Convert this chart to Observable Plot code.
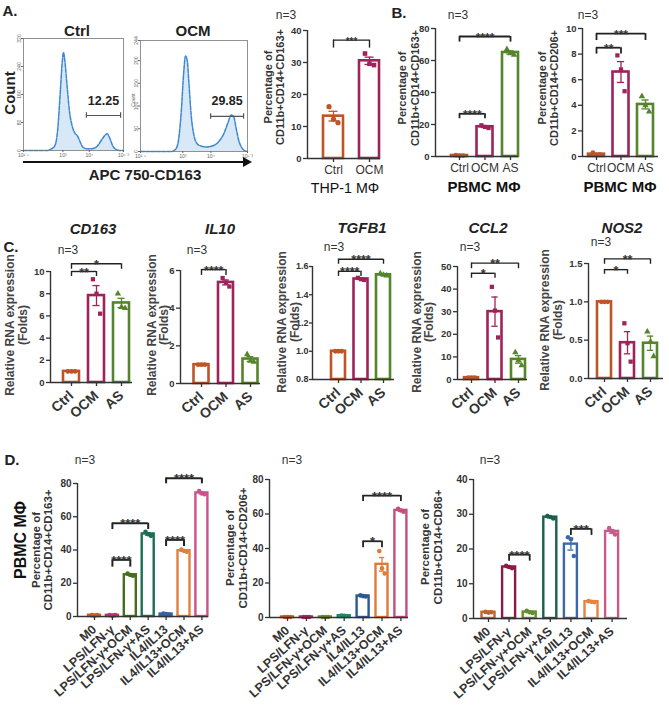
<!DOCTYPE html>
<html><head><meta charset="utf-8">
<script src="https://cdn.jsdelivr.net/npm/d3@7"></script>
<script src="https://cdn.jsdelivr.net/npm/@observablehq/plot@0.6"></script>
<style>
body{margin:0;background:#fff;}
#root{position:relative;width:669px;height:706px;overflow:hidden;font-family:"Liberation Sans",Arial,sans-serif;color:#222;background:#fff;}
.t{position:absolute;white-space:nowrap;line-height:1;text-align:center;}
#root svg{position:absolute;}
</style></head><body><div id="root"></div>
<script>
// ---------------- DATA ----------------
// A: flow histograms (log10 fluorescence, count)
const ctrlHistLog   = [1.5,2.4,2.55,2.7,2.8,2.9,2.97,3.02,3.08,3.15,3.25,3.35,3.45,3.55,3.65,3.75,3.9,4.1,4.3,4.45,4.58,4.68,4.78,4.88,4.98,5.1,5.3];
const ctrlHistCount = [0,0,4,15,60,170,250,280,250,190,110,70,50,42,25,10,5,5,12,28,42,48,35,15,5,1,0];
const ocmHistLog    = [1.5,2.6,2.75,2.85,2.95,3.03,3.1,3.16,3.22,3.3,3.4,3.5,3.65,3.85,4.05,4.25,4.45,4.6,4.72,4.8,4.9,5.0,5.1,5.22,5.3];
const ocmHistCount  = [0,0,5,25,90,170,210,200,150,80,35,18,12,10,12,20,38,62,80,78,50,22,8,1,0];
const histTickLog   = [1.5,3,4,5.3];
const histTickText  = ["10\u00b9\u02d9\u2075","10\u00b3","10\u2074","10\u2075\u02d9\u00b3"];
const ctrlHistYTicks = [0,80,160,240,320];
const ocmHistYTicks  = [0,50,100,150,200,244];
const ctrlGate = {x1:3.89, x2:5.19, y:100, h:8, label:"12.25"};
const ocmGate  = {x1:3.99, x2:5.16, y:77,  h:6, label:"29.85"};

// A: THP-1 bar
const abCats   = ["Ctrl","OCM"];
const thp1Ctrl = [16.2,12.3,11.2];
const thp1Ocm  = [32.8,29.6,29.2];
const thp1Brackets = [[0,1,37,34.5,"***"]];

// B: PBMC
const bCats = ["Ctrl","OCM","AS"];
const pb163Ctrl = [0.8,0.5,0.6];
const pb163Ocm  = [19.5,18.5,17.8];
const pb163As   = [67,64.5,63.5];
const pb163Brackets = [[0,2,75,71.5,"****"],[0,1,26.7,23.6,"****"]];
const pb206Ctrl = [0.3,0.1,0.15];
const pb206Ocm  = [7.9,6.8,5.1];
const pb206As   = [4.7,4.0,3.5];
const pb206Brackets = [[0,2,9.6,9.06,"***"],[0,1,8.5,8.0,"**"]];

// C: RNA expression (folds)
const cCats = ["Ctrl","OCM","AS"];
const cd163Vals = [[1,1,1],[9.3,8.0,6.2],[8.0,6.8,6.7]];
const cd163Brackets = [[0,2,10.7,10.2,"*"],[0,1,10.0,9.55,"**"]];
const il10Vals = [[1,1,1],[5.6,5.35,5.15],[1.55,1.2,1.15]];
const il10Brackets = [[0,1,6.05,5.74,"****"]];
const tgfb1Vals = [[1,1,1],[1.52,1.51,1.505],[1.55,1.54,1.535]];
const tgfb1Brackets = [[0,2,1.651,1.616,"****"],[0,1,1.566,1.53,"****"]];
const ccl2Vals = [[0.8,0.8,0.8],[41,30.5,18.6],[12,8.5,6.2]];
const ccl2Brackets = [[0,2,51.5,49,"**"],[0,1,47,44.8,"*"]];
const nos2Vals = [[1,1,1],[0.72,0.46,0.22],[0.61,0.48,0.29]];
const nos2Brackets = [[0,2,1.56,1.49,"**"],[0,1,1.42,1.36,"*"]];

// D: polarisation conditions
const dCats = ["M0","LPS/LFN-\u03b3","LPS/LFN-\u03b3+OCM","LPS/LFN-\u03b3+AS","IL4/IL13","IL4/IL13+OCM","IL4/IL13+AS"];
const d163Vals = [[0.8,0.6,0.9],[0.9,0.5,0.8],[25.8,25,24.5],[51,49.5,48.5],[1.8,1.4,1.2],[40.2,39.5,39],[75.5,74,73.5]];
const d163Brackets = [[1,3,56.1,52.3,"****"],[1,2,34.1,29.7,"****"],[4,5,46.1,42.1,"****"],[4,6,83.2,79.8,"****"]];
const d206Vals = [[0.3,0.3,0.3],[0.3,0.3,0.3],[0.3,0.3,0.3],[1.2,1.0,0.9],[12.8,12.4,12.2],[38.5,28.5,25.5],[63,62,61.3]];
const d206Brackets = [[4,5,44.2,40.4,"*"],[4,6,70.7,67.2,"****"]];
const d86Vals = [[1.9,1.7,1.8],[15.2,14.8,14.5],[2.2,1.8,1.6],[29.5,29.2,28.8],[23.4,22.8,18],[5.0,4.8,4.7],[26,25,24.2]];
const d86Brackets = [[1,2,18.4,16.5,"****"],[4,5,25.8,23.9,"***"]];

// ---------------- STYLE ----------------
const CTRL = "#bd5526", OCMC = "#a0225a", ASC = "#55852a";
const pal1 = ["#c1632e","#b23a6c","#456f1d","#1a6f56","#3462a6","#e2803c","#c9538a"];
const pal2 = ["#c1632e","#a82a5f","#6a8e2b","#23866a","#2c5894","#e07a35","#c44f7e"];
const pal3 = ["#c1632e","#8a1b48","#62902a","#17624b","#3a69ab","#e8823f","#c95b89"];
const FONT = '"Liberation Sans",Arial,sans-serif';
const jitter = [-0.45, 0, 0.45];
const root = document.getElementById("root");

function T(html, x, y, o = {}) {
  const d = document.createElement("div");
  d.className = "t";
  d.innerHTML = html;
  d.style.left = x + "px"; d.style.top = y + "px";
  d.style.fontSize = (o.size || 12) + "px";
  d.style.fontWeight = o.bold ? "bold" : "normal";
  if (o.italic) d.style.fontStyle = "italic";
  d.style.color = o.color || "#222";
  if (o.lh) d.style.lineHeight = o.lh + "px";
  let tr = "translate(-50%,-50%)";
  if (o.rot) tr += ` rotate(${o.rot}deg)`;
  if (o.sx) tr += ` scaleX(${o.sx})`;
  d.style.transform = tr;
  root.append(d);
}

function place(svg, left, top) {
  svg.style.left = left + "px"; svg.style.top = top + "px";
  root.append(svg);
}

function hist(g) {
  const rows = g.xs.map((x, i) => ({x, y: g.ys[i]}));
  const ml = 14, mr = 4, mt = 2, mb = 10;
  const width = g.right - g.left + ml + mr, height = g.bottom - g.top + mt + mb;
  const gate = [g.gate];
  const p = Plot.plot({
    width, height, marginLeft: ml, marginRight: mr, marginTop: mt, marginBottom: mb,
    x: {domain: [1.5, 5.3]}, y: {domain: [0, g.ymax]},
    style: {background: "transparent", overflow: "visible", fontFamily: FONT, color: "#666"},
    marks: [
      Plot.areaY(rows, {x: "x", y: "y", fill: "#d8e8f6", curve: "monotone-x"}),
      Plot.line(rows, {x: "x", y: "y", stroke: "#3b88d3", strokeWidth: 1.5, curve: "monotone-x", strokeDasharray: "4,1.3"}),
      Plot.frame({stroke: "#777", strokeWidth: 0.8}),
      Plot.ruleY(gate, {y: "y", x1: "x1", x2: "x2", stroke: "#555", strokeWidth: 1.2}),
      Plot.ruleX(gate, {x: "x1", y1: d => d.y - d.h, y2: d => d.y + d.h, stroke: "#555", strokeWidth: 1.2}),
      Plot.ruleX(gate, {x: "x2", y1: d => d.y - d.h, y2: d => d.y + d.h, stroke: "#555", strokeWidth: 1.2}),
      Plot.text(gate, {x: d => (d.x1 + d.x2) / 2, y: "y", text: "label", dy: -15, fontSize: 12.5, fontWeight: "bold", fill: "#222"}),
      Plot.axisY({ticks: g.yTicks, tickSize: 2, tickPadding: 1, fontSize: 5, tickRotate: -90, label: null}),
      Plot.axisX({ticks: histTickLog, tickFormat: (d, i) => histTickText[i], tickSize: 2, tickPadding: 1, fontSize: 5, label: null})
    ]
  });
  place(p, g.left - ml, g.top - mt);
}

function barChart(g) {
  const n = g.cats.length;
  const hw = g.bw / g.step / 2;
  const ml = 30, mr = 4, mt = 30, mb = g.mb || 40;
  const xd = [(g.ax - g.c0) / g.step, (g.xe - g.c0) / g.step];
  const [ylo, yhi] = g.yDomain;
  const rows = g.pts.map((v, i) => ({i, color: g.colors[i], mean: d3.mean(v), sem: d3.deviation(v) / Math.sqrt(v.length)}));
  const dots = g.pts.flatMap((v, i) => v.map((y, k) => ({x: i + jitter[k] * hw, y, color: g.colors[i], symbol: g.symbols[i]})));
  const br = g.brackets.map(([a, b, y, leg, s]) => ({a, b, y, leg, s}));
  const width = g.xe - g.ax + ml + mr, height = g.y0 - g.yt + mt + mb;
  const symbolMarks = [...new Set(g.symbols)].map(sym =>
    Plot.dot(dots.filter(d => d.symbol === sym), {x: "x", y: "y", fill: "color", symbol: sym, r: g.r || 2.4}));
  const bsw = g.bsw || 1.4;
  const p = Plot.plot({
    width, height, marginLeft: ml, marginRight: mr, marginTop: mt, marginBottom: mb,
    x: {type: "linear", domain: xd},
    y: {type: "linear", domain: g.yDomain},
    color: {type: "identity"},
    style: {background: "transparent", overflow: "visible", fontFamily: FONT, color: "#333"},
    marks: [
      Plot.rectY(rows, {x1: d => d.i - hw, x2: d => d.i + hw, y1: ylo, y2: "mean", fill: "white", stroke: "color", strokeWidth: g.sw || 2.6}),
      Plot.ruleX(rows, {x: "i", y1: d => Math.max(ylo, d.mean - d.sem), y2: d => d.mean + d.sem, stroke: "color", strokeWidth: 1.3}),
      Plot.ruleY(rows.filter(d => d.sem > 0), {y: d => d.mean + d.sem, x1: d => d.i - hw * 0.45, x2: d => d.i + hw * 0.45, stroke: "color", strokeWidth: 1.3}),
      Plot.ruleY(rows.filter(d => d.sem > 0), {y: d => d.mean - d.sem, x1: d => d.i - hw * 0.45, x2: d => d.i + hw * 0.45, stroke: "color", strokeWidth: 1.3}),
      ...symbolMarks,
      Plot.ruleY(br, {y: "y", x1: "a", x2: "b", stroke: "#222", strokeWidth: bsw}),
      Plot.ruleX(br, {x: "a", y1: "leg", y2: "y", stroke: "#222", strokeWidth: bsw}),
      Plot.ruleX(br, {x: "b", y1: "leg", y2: "y", stroke: "#222", strokeWidth: bsw}),
      Plot.text(br, {x: d => (d.a + d.b) / 2, y: "y", text: "s", fontSize: g.starSize || 12, fontWeight: "bold", dy: 5, lineAnchor: "bottom", fill: "#333"}),
      Plot.ruleX([xd[0]], {y1: ylo, y2: yhi, stroke: "#333", strokeWidth: 1.4}),
      Plot.ruleY([ylo], {x1: xd[0], x2: xd[1], stroke: "#333", strokeWidth: 1.4}),
      Plot.axisY({ticks: g.yTicks, tickFormat: g.yFmt || (d => d), tickSize: g.yTickSize || 4, tickPadding: g.yPad || 2, fontSize: g.yFont || 9.5, fontWeight: "bold", label: null, strokeWidth: 1.3}),
      Plot.axisX({ticks: d3.range(n), tickFormat: i => g.cats[i], tickSize: 4, tickPadding: g.xPad || 3, tickRotate: g.xRot || 0,
        fontSize: g.xFont, fontWeight: g.xBold ? "bold" : "normal", label: null, strokeWidth: 1.3})
    ]
  });
  place(p, g.ax - ml, g.yt - mt);
}

// ---------------- PANEL A ----------------
hist({xs: ctrlHistLog, ys: ctrlHistCount, ymax: 320, yTicks: ctrlHistYTicks, gate: ctrlGate, left: 23, right: 123, top: 38, bottom: 150});
hist({xs: ocmHistLog, ys: ocmHistCount, ymax: 244, yTicks: ocmHistYTicks, gate: ocmGate, left: 140, right: 247, top: 40, bottom: 151});
// axis arrow
(() => {
  const l = document.createElement("div");
  l.style.cssText = "position:absolute;left:23px;top:161px;width:222px;height:0;border-top:2px solid #111;";
  root.append(l);
  const a = document.createElement("div");
  a.style.cssText = "position:absolute;left:243px;top:157px;width:0;height:0;border-top:5px solid transparent;border-bottom:5px solid transparent;border-left:9px solid #111;";
  root.append(a);
})();
T("A.", 10, 10, {size: 15, bold: true});
T("Ctrl", 77, 30, {size: 15, bold: true});
T("OCM", 193, 30, {size: 15, bold: true});
T("Count", 9, 93, {size: 15, bold: true, rot: -90});
T("Count", 133, 100, {size: 5, rot: -90, color: "#666"});
T("APC 750-CD163", 145, 174, {size: 15, bold: true});

barChart({cats: abCats, pts: [thp1Ctrl, thp1Ocm], colors: [CTRL, OCMC], symbols: ["circle", "square"],
  yDomain: [0, 40], yTicks: [0, 10, 20, 30, 40], ax: 307, xe: 380, y0: 158, yt: 30, c0: 333, step: 36, bw: 20,
  brackets: thp1Brackets, xFont: 12, xBold: false, sw: 2.6, r: 2.6, starSize: 10});
T("n=3", 286, 15, {size: 12, color: "#333"});
T("Percentage of<br>CD11b+CD14+CD163+", 274, 87, {size: 11, bold: true, rot: -90, lh: 12, color: "#333"});
T("THP-1 M\u03a6", 345, 187, {size: 15, color: "#111", sx: 0.95});

// ---------------- PANEL B ----------------
barChart({cats: bCats, pts: [pb163Ctrl, pb163Ocm, pb163As], colors: [CTRL, OCMC, ASC], symbols: ["circle", "square", "triangle"],
  yDomain: [0, 80], yTicks: [0, 20, 40, 60, 80], ax: 435, xe: 518, y0: 156, yt: 28, c0: 459, step: 25.5, bw: 16,
  brackets: pb163Brackets, xFont: 12, xBold: false, bsw: 1.8, starSize: 12});
barChart({cats: bCats, pts: [pb206Ctrl, pb206Ocm, pb206As], colors: [CTRL, OCMC, ASC], symbols: ["circle", "square", "triangle"],
  yDomain: [0, 10], yTicks: [0, 2, 4, 6, 8, 10], ax: 582, xe: 658, y0: 156, yt: 28, c0: 596, step: 24.5, bw: 16,
  brackets: pb206Brackets, xFont: 12, xBold: false, bsw: 1.8, starSize: 12});
T("B.", 399, 12, {size: 15, bold: true});
T("n=3", 458, 15, {size: 12, color: "#333"});
T("n=3", 588, 15, {size: 12, color: "#333"});
T("Percentage of<br>CD11b+CD14+CD163+", 408.5, 88, {size: 11, bold: true, rot: -90, lh: 13, color: "#333"});
T("Percentage of<br>CD11b+CD14+CD206+", 547.5, 88, {size: 11, bold: true, rot: -90, lh: 12, color: "#333"});
T("PBMC M\u03a6", 484, 186, {size: 15, bold: true, color: "#111"});
T("PBMC M\u03a6", 620, 186, {size: 15, bold: true, color: "#111"});

// ---------------- PANEL C ----------------
const cCommon = {cats: cCats, colors: [CTRL, OCMC, ASC], symbols: ["circle", "square", "triangle"], xFont: 14, xBold: true, xRot: -42, xPad: 7, mb: 50, starSize: 12.5};
barChart({...cCommon, pts: cd163Vals, yDomain: [0, 10], yTicks: [0, 2, 4, 6, 8, 10], ax: 50, xe: 132, y0: 382, yt: 271, c0: 71, step: 25, bw: 16, brackets: cd163Brackets});
barChart({...cCommon, pts: il10Vals, yDomain: [0, 6], yTicks: [0, 2, 4, 6], ax: 180, xe: 260, y0: 383, yt: 270, c0: 201, step: 24.5, bw: 15, brackets: il10Brackets});
barChart({...cCommon, pts: tgfb1Vals, yDomain: [0.8, 1.6], yTicks: [0.8, 1.0, 1.2, 1.4, 1.6], yFmt: d3.format(".1f"), yFont: 9, yTickSize: 3, yPad: 1, ax: 312, xe: 394, y0: 379, yt: 266, c0: 338, step: 22.5, bw: 14, brackets: tgfb1Brackets});
barChart({...cCommon, pts: ccl2Vals, yDomain: [0, 50], yTicks: [0, 10, 20, 30, 40, 50], ax: 457, xe: 527, y0: 379, yt: 266, c0: 471, step: 23.5, bw: 14, brackets: ccl2Brackets});
barChart({...cCommon, pts: nos2Vals, yDomain: [0, 1.5], yTicks: [0, 0.5, 1.0, 1.5], yFmt: d3.format(".1f"), ax: 588, xe: 663, y0: 378, yt: 263, c0: 604, step: 23, bw: 14, brackets: nos2Brackets});
T("C.", 11, 246, {size: 15, bold: true});
T("CD163", 93, 228, {size: 15, bold: true, italic: true});
T("IL10", 220, 228, {size: 15, bold: true, italic: true});
T("TGFB1", 362, 227, {size: 15, bold: true, italic: true});
T("CCL2", 488, 227, {size: 15, bold: true, italic: true});
T("NOS2", 622, 227, {size: 15, bold: true, italic: true});
T("n=3", 68, 250, {size: 12, color: "#333"});
T("n=3", 197, 250, {size: 12, color: "#333"});
T("n=3", 334, 247, {size: 12, color: "#333"});
T("n=3", 470, 247, {size: 12, color: "#333"});
T("n=3", 601, 242, {size: 12, color: "#333"});
const rl = "Relative RNA expression<br>(Folds)";
T(rl, 16.5, 325, {size: 12, bold: true, rot: -90, lh: 13, color: "#444"});
T(rl, 157.5, 325, {size: 12, bold: true, rot: -90, lh: 12, color: "#444"});
T(rl, 288.5, 322, {size: 12, bold: true, rot: -90, lh: 13, color: "#444"});
T(rl, 422.5, 322, {size: 12, bold: true, rot: -90, lh: 11.5, color: "#444"});
T(rl, 551.5, 320, {size: 12, bold: true, rot: -90, lh: 13, color: "#444"});

// ---------------- PANEL D ----------------
const dCommon = {cats: dCats, symbols: dCats.map(() => "circle"), xFont: 12.5, xBold: true, xRot: -42, xPad: 7, mb: 100, yDomain: [0, 80], yTicks: [0, 20, 40, 60, 80], yFont: 10, sw: 2.4, r: 2.3, starSize: 13};
barChart({...dCommon, pts: d163Vals, colors: pal1, ax: 77, xe: 208, y0: 616, yt: 483, c0: 94, step: 17.9, bw: 12, brackets: d163Brackets, bsw: 2});
barChart({...dCommon, pts: d206Vals, colors: pal2, ax: 269, xe: 408, y0: 617, yt: 479, c0: 287, step: 18.9, bw: 12, brackets: d206Brackets, bsw: 1.8});
barChart({...dCommon, pts: d86Vals, colors: pal3, yDomain: [0, 40], yTicks: [0, 10, 20, 30, 40], ax: 473, xe: 627, y0: 618, yt: 479, c0: 488, step: 20.6, bw: 13, brackets: d86Brackets, bsw: 1.8});
T("D.", 12, 459, {size: 15, bold: true});
T("n=3", 85, 460, {size: 12, color: "#333"});
T("n=3", 292, 460, {size: 12, color: "#333"});
T("n=3", 490, 460, {size: 12, color: "#333"});
T("PBMC M\u03a6", 21, 540, {size: 16, bold: true, rot: -90, color: "#111"});
T("Percentage of<br>CD11b+CD14+CD163+", 42, 550, {size: 11.5, bold: true, rot: -90, lh: 12, color: "#333"});
T("Percentage of<br>CD11b+CD14+CD206+", 236.5, 548, {size: 11.5, bold: true, rot: -90, lh: 13, color: "#333"});
T("Percentage of<br>CD11b+CD14+CD86+", 431.5, 547, {size: 11.5, bold: true, rot: -90, lh: 13, color: "#333"});
</script></body></html>
